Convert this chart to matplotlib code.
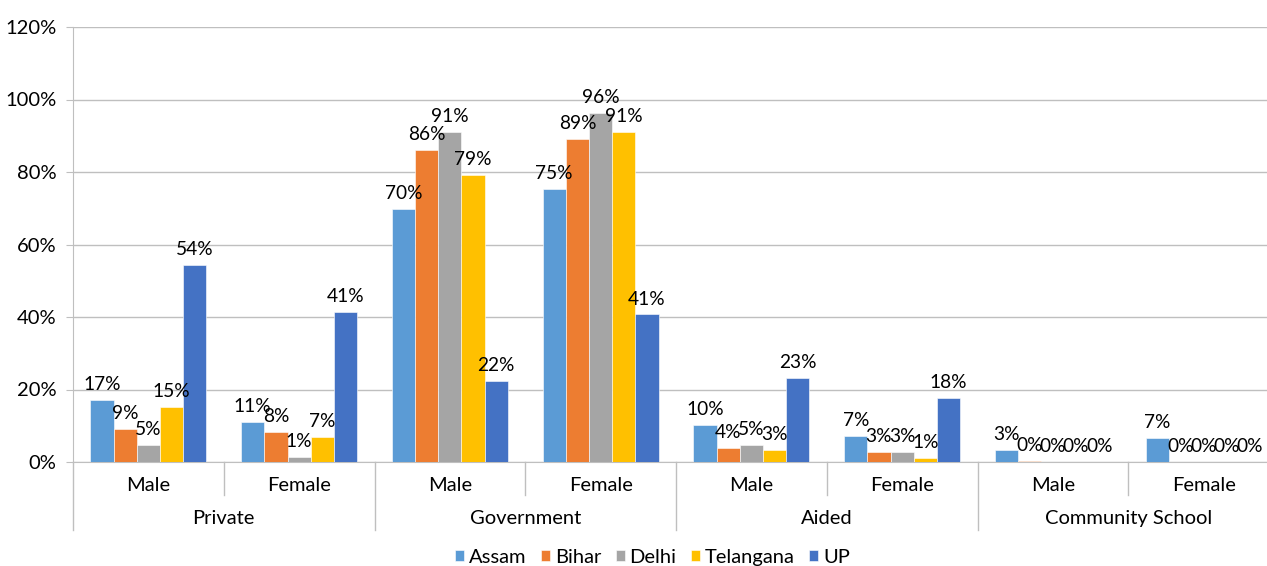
import matplotlib.pyplot as plt
import numpy as np

# Data (percent)
states = ['Assam', 'Bihar', 'Delhi', 'Telangana', 'UP']
colors = ['#5B9BD5', '#ED7D31', '#A5A5A5', '#FFC000', '#4472C4']
genders = ['Male', 'Female'] * 4
school_types = ['Private', 'Government', 'Aided', 'Community School']

assam = [17.1, 11.1, 69.8, 75.2, 10.2, 7.2, 3.4, 6.6]
bihar = [9.1, 8.2, 86.2, 89.0, 3.8, 2.7, 0.2, 0.0]
delhi = [4.7, 1.4, 91.0, 96.3, 4.6, 2.7, 0.0, 0.0]
telangana = [15.3, 6.9, 79.3, 91.0, 3.4, 1.2, 0.0, 0.0]
up = [54.4, 41.4, 22.4, 40.7, 23.2, 17.6, 0.0, 0.1]
series = [assam, bihar, delhi, telangana, up]

plt.rcParams['font.family'] = ['Lato', 'DejaVu Sans']
fs = 14.5
grid_c = '#BFBFBF'

fig = plt.figure(figsize=(12.67, 5.66), dpi=100)
ax = fig.add_axes([73 / 1267, 104 / 566, 1206 / 1267, 435 / 566])

n = len(genders)
centers = np.arange(n) + 0.5
w = 0.154
for k, (name, vals, c) in enumerate(zip(states, series, colors)):
    xs = centers + (k - 2) * w
    ax.bar(xs, vals, width=w, color=c, edgecolor='white', linewidth=0.4,
           label=name, zorder=3)
    for x, v in zip(xs, vals):
        ax.annotate(f'{int(np.floor(v + 0.5))}%', (x, v), xytext=(0, 5),
                    textcoords='offset points', ha='center', va='bottom',
                    fontsize=13.8, color='#000000', zorder=4)

ax.set_xlim(0, n)
ax.set_ylim(0, 120)
ax.set_yticks(np.arange(0, 121, 20))
ax.set_yticklabels([f'{t}%' for t in range(0, 121, 20)], fontsize=fs)
ax.tick_params(axis='y', length=5, color=grid_c, pad=7)
ax.set_xticks([])
ax.yaxis.grid(True, color=grid_c, linewidth=1, zorder=0)
for s in ['top', 'right']:
    ax.spines[s].set_visible(False)
for s in ['left', 'bottom']:
    ax.spines[s].set_color(grid_c)

# multi-level category axis
tr = ax.get_xaxis_transform()
for i, g in enumerate(genders):
    ax.text(centers[i], -0.053, g, transform=tr, ha='center', va='center', fontsize=fs)
for j, st in enumerate(school_types):
    ax.text(2 * j + 1, -0.129, st, transform=tr, ha='center', va='center', fontsize=fs)
for i in range(n + 1):
    depth = -0.156 if i % 2 == 0 else -0.076
    ax.plot([i, i], [0, depth], transform=tr, color=grid_c, lw=1, clip_on=False)

fig.legend(loc='center', bbox_to_anchor=(0.515, 0.015), ncol=5, frameon=False,
           fontsize=fs, handlelength=0.45, handleheight=0.45, handletextpad=0.25,
           columnspacing=0.7, borderpad=0)

fig.savefig('out.png', dpi=100)
